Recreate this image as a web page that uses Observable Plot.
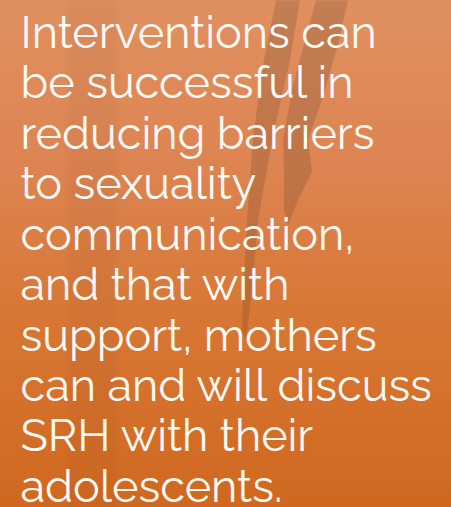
<!DOCTYPE html>
<html>
<head>
<meta charset="utf-8">
<script src="https://cdn.jsdelivr.net/npm/d3@7"></script>
<script src="https://cdn.jsdelivr.net/npm/@observablehq/plot@0.6"></script>
<style>
  html, body { margin: 0; padding: 0; }
  body { width: 451px; height: 507px; overflow: hidden; }
  #chart {
    width: 451px; height: 507px; position: relative; overflow: hidden;
    background:
      linear-gradient(90deg, rgba(0,0,0,0) 14%, rgba(90,50,30,0.05) 16%, rgba(90,50,30,0.05) 25%, rgba(0,0,0,0) 27%),
      linear-gradient(180deg, #e0905f 0%, #dd8553 30%, #d77633 65%, #d0681f 100%);
  }
  .shade { position: absolute; left: 0; top: 0; width: 451px; height: 507px;
           background: rgba(80,55,35,0.2); filter: blur(1.5px); }
  #s1 { clip-path: polygon(276px 0, 300px 0, 290px 60px, 272px 140px, 266px 175px, 258px 220px, 252px 290px, 246px 340px, 242px 330px, 243px 290px, 247px 220px, 253px 140px, 262px 70px); }
  #s2 { clip-path: polygon(316px 0, 348px 0, 338px 45px, 322px 100px, 308px 140px, 312px 172px, 298px 200px, 288px 225px, 284px 210px, 284px 170px, 283px 140px, 292px 90px, 305px 40px); }
  #plotwrap { position: absolute; left: 0; top: 0; }
</style>
</head>
<body>
<div id="chart">
  <div class="shade" id="s1"></div>
  <div class="shade" id="s2"></div>
  <div id="plotwrap"></div>
</div>
<script>
const lines = [
  "Interventions can",
  "be successful in",
  "reducing barriers",
  "to sexuality",
  "communication,",
  "and that with",
  "support, mothers",
  "can and will discuss",
  "SRH with their",
  "adolescents."
];
const lineIndex = lines.map((_, i) => i);
const data = lines.map((t, i) => ({text: t, row: lineIndex[i]}));

const plot = Plot.plot({
  width: 451,
  height: 507,
  margin: 0,
  style: {background: "transparent", overflow: "visible"},
  x: {domain: [0, 451], range: [0, 451], axis: null},
  y: {domain: [0, lines.length - 1], range: [33, 487], axis: null},
  marks: [
    Plot.text(data, {
      x: () => 20,
      y: "row",
      text: "text",
      textAnchor: "start",
      lineAnchor: "middle",
      fill: "#fffaf6",
      fontSize: 45,
      fontWeight: 400,
      fontFamily: "Raleway, 'Open Sans', Lato, sans-serif"
    })
  ]
});
document.getElementById("plotwrap").appendChild(plot);
</script>
</body>
</html>
